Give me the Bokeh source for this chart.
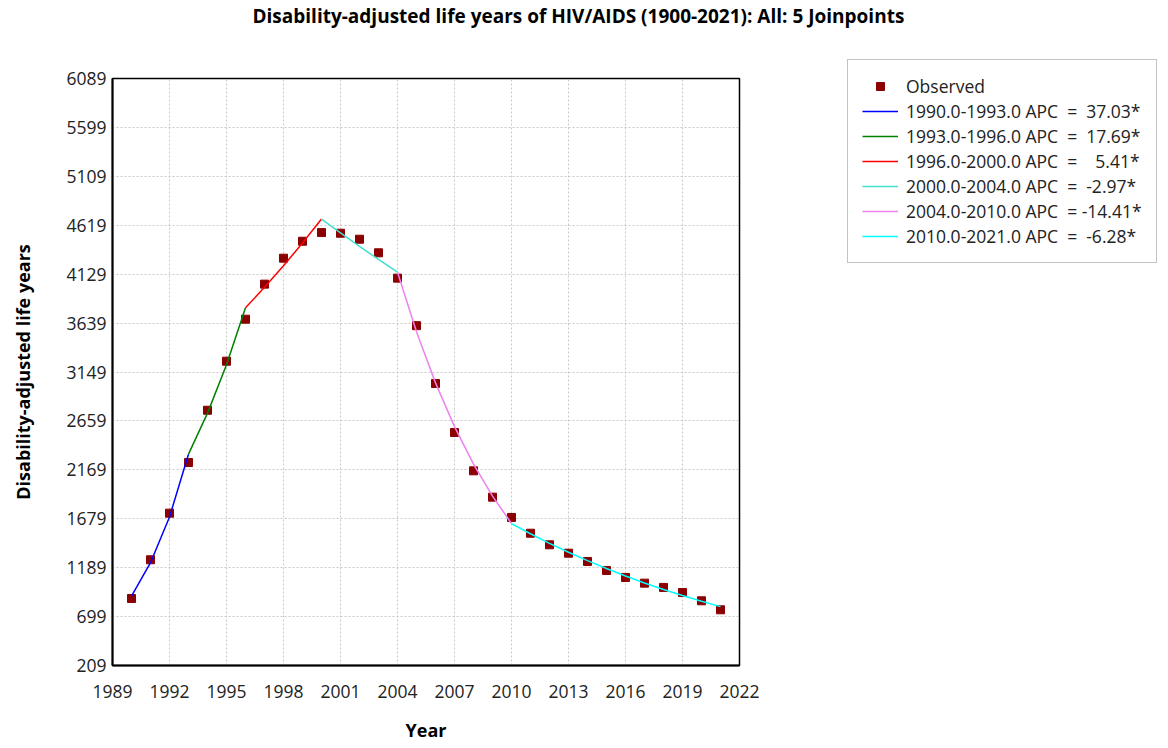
from bokeh.plotting import figure
from bokeh.models import FixedTicker, Legend, LegendItem, Range1d, Title
from bokeh.embed import file_html
from bokeh.resources import INLINE

# ---- data ----
years = list(range(1990, 2022))
observed = [880, 1268, 1735, 2242, 2766, 3257, 3678, 4029, 4289, 4459,
            4546, 4539, 4479, 4343, 4089, 3613, 3034, 2543, 2159, 1895,
            1692, 1534, 1418, 1334, 1251, 1161, 1091, 1034, 991, 940,
            857, 767]

seg_labels = ["1990.0-1993.0 APC  =  37.03*",
              "1993.0-1996.0 APC  =  17.69*",
              "1996.0-2000.0 APC  =    5.41*",
              "2000.0-2004.0 APC  =  -2.97*",
              "2004.0-2010.0 APC  = -14.41*",
              "2010.0-2021.0 APC  =  -6.28*"]
seg_years = [[1990, 1991, 1992, 1993],
             [1993, 1994, 1995, 1996],
             [1996, 1997, 1998, 1999, 2000],
             [2000, 2001, 2002, 2003, 2004],
             [2004, 2005, 2006, 2007, 2008, 2009, 2010],
             [2010, 2011, 2012, 2013, 2014, 2015, 2016, 2017, 2018, 2019, 2020, 2021]]
seg_fit = [[904, 1239, 1697, 2326],
           [2326, 2737, 3222, 3792],
           [3792, 3997, 4213, 4441, 4681],
           [4681, 4542, 4407, 4276, 4149],
           [4149, 3552, 3040, 2602, 2227, 1906, 1631],
           [1631, 1529, 1433, 1343, 1259, 1180, 1105, 1036, 971, 910, 853, 799]]
seg_colors = ["blue", "green", "red", "turquoise", "violet", "cyan"]

x_ticks = [1989, 1992, 1995, 1998, 2001, 2004, 2007, 2010, 2013, 2016, 2019, 2022]
y_ticks = [209, 699, 1189, 1679, 2169, 2659, 3149, 3639, 4129, 4619, 5109, 5599, 6089]

title_text = "Disability-adjusted life years of HIV/AIDS (1900-2021): All: 5 Joinpoints"
FONT = "Open Sans"
MARK = "#8b0000"

p = figure(width=1160, height=746, frame_width=627, frame_height=587,
           output_backend="svg", toolbar_location=None,
           x_range=Range1d(1989, 2022), y_range=Range1d(209, 6089),
           min_border_left=112, min_border_right=421, min_border_top=75,
           min_border_bottom=84)
p.title = None
# blank white spacer next to the frame, then the real title further out
p.add_layout(Title(text=" ", text_font=FONT, text_font_size="19px",
                   standoff=22, text_color="white"), "above")
p.add_layout(Title(text=title_text, align="left", offset=140, standoff=0,
                   vertical_align="bottom",
                   text_font=FONT, text_font_size="19px", text_font_style="bold",
                   text_color="black"), "above")
p.background_fill_color = "white"
p.border_fill_color = "white"
p.outline_line_color = "black"
p.outline_line_width = 1.5

for ax, ticks in ((p.xaxis, x_ticks), (p.yaxis, y_ticks)):
    ax.ticker = FixedTicker(ticks=ticks)
    ax.major_tick_line_color = None
    ax.minor_tick_line_color = None
    ax.major_tick_out = 0
    ax.major_tick_in = 0
    ax.minor_tick_out = 0
    ax.axis_line_color = "black"
    ax.axis_line_width = 2
    ax.major_label_text_font = FONT
    ax.major_label_text_font_size = "17.5px"
    ax.major_label_text_color = "#222222"
    ax.axis_label_text_font = FONT
    ax.axis_label_text_font_size = "18px"
    ax.axis_label_text_font_style = "bold"
    ax.axis_label_text_color = "black"

p.xaxis.axis_label = "Year"
p.yaxis.axis_label = "Disability-adjusted life years"
p.xaxis.major_label_standoff = 19
p.yaxis.major_label_standoff = 6
p.xaxis.axis_label_standoff = 17
p.yaxis.axis_label_standoff = 28

for g in (p.xgrid, p.ygrid):
    g.grid_line_color = "#c8c8c8"
    g.grid_line_dash = "2 2"
    g.grid_line_width = 1
p.xgrid.ticker = FixedTicker(ticks=x_ticks)
p.ygrid.ticker = FixedTicker(ticks=y_ticks)

items = []
r_obs = p.scatter(years, observed, marker="square", size=8,
                  fill_color=MARK, line_color=MARK)
items.append(LegendItem(label="Observed", renderers=[r_obs]))
for lab, xs, ys, c in zip(seg_labels, seg_years, seg_fit, seg_colors):
    r = p.line(xs, ys, line_color=c, line_width=1.5)
    items.append(LegendItem(label=lab, renderers=[r]))

legend = Legend(items=items, location=(108, 402))
legend.label_text_font = FONT
legend.label_text_font_size = "17.5px"
legend.label_text_color = "#222222"
legend.border_line_color = "#888888"
legend.border_line_width = 1
legend.background_fill_color = "white"
legend.background_fill_alpha = 1
legend.glyph_width = 36
legend.glyph_height = 20
legend.label_height = 20
legend.label_standoff = 8
legend.spacing = 1
legend.padding = 14
legend.margin = 0
p.add_layout(legend, "right")

open("out.html", "w").write(file_html(p, INLINE))
